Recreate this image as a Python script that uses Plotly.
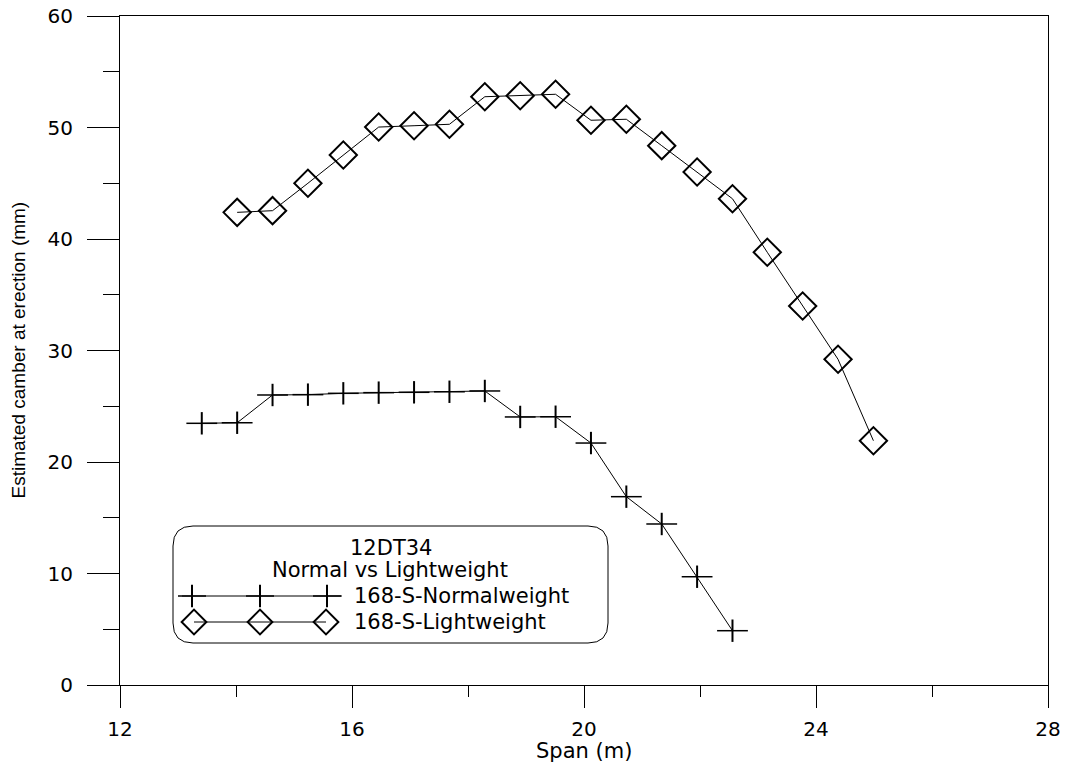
import plotly.graph_objects as go

# Span (m) and estimated camber at erection (mm) for the two 168-S strand patterns
span_normal = [13.41, 14.02, 14.63, 15.24, 15.85, 16.46, 17.07, 17.68,
               18.29, 18.90, 19.51, 20.12, 20.73, 21.34, 21.95, 22.56]
camber_normal = [23.47, 23.52, 26.01, 26.04, 26.16, 26.22, 26.25, 26.30,
                 26.37, 24.04, 24.06, 21.70, 16.89, 14.44, 9.71, 4.87]

span_light = [14.02, 14.63, 15.24, 15.85, 16.46, 17.07, 17.68, 18.29, 18.90,
              19.51, 20.12, 20.73, 21.34, 21.95, 22.56, 23.16, 23.77, 24.38, 24.99]
camber_light = [42.39, 42.54, 45.00, 47.53, 50.04, 50.16, 50.29, 52.76, 52.85,
                52.98, 50.65, 50.74, 48.37, 46.01, 43.61, 38.81, 33.99, 29.21, 21.91]

series_names = ["168-S-Normalweight", "168-S-Lightweight"]
legend_heading = ["12DT34", "Normal vs Lightweight"]

x_major = [12, 16, 20, 24, 28]
x_minor = [14, 18, 22, 26]
y_major = [0, 10, 20, 30, 40, 50, 60]
y_minor = [5, 15, 25, 35, 45, 55]
y_right = [6, 18, 30, 42, 54]

x_title = "Span (m)"
y_title = "Estimated camber at erection (mm)"

# Page geometry (pixels)
W, H = 1069, 764
ML, MR, MT, MB = 120, 21, 16, 79
PW, PH = W - ML - MR, H - MT - MB

def px(x):
    return (x - ML) / PW

def py(y):
    return (H - MB - y) / PH

TXT = "DejaVu Sans"
INK = "black"

fig = go.Figure()

# Normalweight: line with wide horizontal bar + shorter vertical bar (cross)
fig.add_trace(go.Scatter(
    x=span_normal, y=camber_normal, mode="lines+markers", name=series_names[0],
    line=dict(color=INK, width=1),
    marker=dict(symbol="line-ew-open", size=22, color=INK,
                line=dict(color=INK, width=1.5)),
    showlegend=False))
fig.add_trace(go.Scatter(
    x=span_normal, y=camber_normal, mode="markers", name=series_names[0],
    marker=dict(symbol="line-ns-open", size=16, color=INK,
                line=dict(color=INK, width=2)),
    showlegend=False))

# Lightweight: line with open diamonds
fig.add_trace(go.Scatter(
    x=span_light, y=camber_light, mode="lines+markers", name=series_names[1],
    line=dict(color=INK, width=1),
    marker=dict(symbol="diamond-open", size=21, color=INK,
                line=dict(color=INK, width=2)),
    showlegend=False))

# Legend samples drawn on an overlay axis spanning the plot area (0..1)
lg_cross_x = [px(192), px(260), px(327)]
lg_diam_x = [px(194), px(260), px(326)]
lg_y1, lg_y2 = py(596), py(622)

fig.add_trace(go.Scatter(
    x=[px(182), px(342)], y=[lg_y1, lg_y1], mode="lines", xaxis="x2", yaxis="y3",
    line=dict(color=INK, width=1), showlegend=False, hoverinfo="skip"))
fig.add_trace(go.Scatter(
    x=lg_cross_x, y=[lg_y1] * 3, mode="markers", xaxis="x2", yaxis="y3",
    marker=dict(symbol="line-ew-open", size=20, color=INK,
                line=dict(color=INK, width=1.5)),
    showlegend=False, hoverinfo="skip"))
fig.add_trace(go.Scatter(
    x=lg_cross_x, y=[lg_y1] * 3, mode="markers", xaxis="x2", yaxis="y3",
    marker=dict(symbol="line-ns-open", size=16, color=INK,
                line=dict(color=INK, width=2)),
    showlegend=False, hoverinfo="skip"))
fig.add_trace(go.Scatter(
    x=lg_diam_x, y=[lg_y2] * 3, mode="lines+markers", xaxis="x2", yaxis="y3",
    line=dict(color=INK, width=1),
    marker=dict(symbol="diamond-open", size=19, color=INK,
                line=dict(color=INK, width=2)),
    showlegend=False, hoverinfo="skip"))

# Rounded legend frame
bx0, bx1, by0, by1 = px(173), px(608), py(643), py(526)
rx, ry = 20 / PW, 20 / PH
frame = (f"M{bx0 + rx},{by0} L{bx1 - rx},{by0} Q{bx1},{by0} {bx1},{by0 + ry} "
         f"L{bx1},{by1 - ry} Q{bx1},{by1} {bx1 - rx},{by1} "
         f"L{bx0 + rx},{by1} Q{bx0},{by1} {bx0},{by1 - ry} "
         f"L{bx0},{by0 + ry} Q{bx0},{by0} {bx0 + rx},{by0} Z")

annotations = [
    dict(text=legend_heading[0], x=px(391), y=py(548)),
    dict(text=legend_heading[1], x=px(390), y=py(570)),
    dict(text=series_names[0], x=px(352), y=lg_y1, xanchor="left"),
    dict(text=series_names[1], x=px(352), y=lg_y2, xanchor="left"),
    dict(text=x_title, x=0.5, y=py(751),
         font=dict(family=TXT, size=21, color=INK)),
    dict(text=y_title, x=px(18), y=0.5, textangle=-90,
         font=dict(family="Liberation Sans, Arial", size=19, color=INK)),
]
for a in annotations:
    a.setdefault("xanchor", "center")
    a.setdefault("yanchor", "middle")
    a.setdefault("font", dict(family=TXT, size=21, color=INK))
    a.update(xref="paper", yref="paper", showarrow=False)

tick_font = dict(family=TXT, size=20, color=INK)

fig.update_layout(
    width=W, height=H,
    margin=dict(l=ML, r=MR, t=MT, b=MB, pad=0, autoexpand=False),
    paper_bgcolor="white", plot_bgcolor="white",
    showlegend=False,
    xaxis=dict(range=[12, 28], tickvals=x_major, ticks="outside", ticklen=22,
               tickwidth=1, tickcolor=INK, showline=True, linecolor=INK,
               linewidth=1, mirror=True, showgrid=False, zeroline=False,
               tickfont=tick_font, ticklabelstandoff=4, automargin=False,
               minor=dict(tickvals=x_minor, ticks="outside", ticklen=11,
                          tickwidth=1, tickcolor=INK, showgrid=False)),
    yaxis=dict(range=[0, 60], tickvals=y_major, ticks="outside", ticklen=32,
               tickwidth=1, tickcolor=INK, showline=True, linecolor=INK,
               linewidth=1, mirror=True, showgrid=False, zeroline=False,
               tickfont=tick_font, ticklabelstandoff=10, automargin=False,
               minor=dict(tickvals=y_minor, ticks="outside", ticklen=16,
                          tickwidth=1, tickcolor=INK, showgrid=False)),
    yaxis2=dict(overlaying="y", side="right", range=[0, 60], tickvals=y_right,
                ticks="inside", ticklen=16, tickwidth=1, tickcolor=INK,
                showticklabels=False, showline=False, showgrid=False,
                zeroline=False, automargin=False),
    xaxis2=dict(overlaying="x", range=[0, 1], visible=False, automargin=False),
    yaxis3=dict(overlaying="y", range=[0, 1], visible=False, automargin=False),
    shapes=[dict(type="path", path=frame, xref="paper", yref="paper",
                 line=dict(color=INK, width=1), fillcolor="rgba(0,0,0,0)",
                 layer="above")],
    annotations=annotations,
)

fig.write_html("out.html")
